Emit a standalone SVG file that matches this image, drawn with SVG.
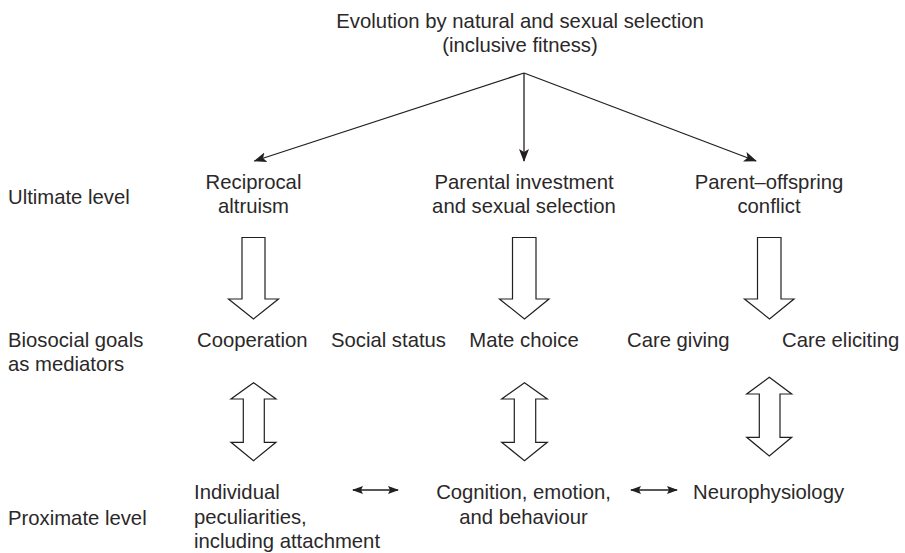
<svg xmlns="http://www.w3.org/2000/svg" width="905" height="553" viewBox="0 0 905 553">
  <style>
    text { font-family: "Liberation Sans", Arial, sans-serif; font-size: 20.3px; fill: #2b2829; }
    .mid { text-anchor: middle; }
    .line { stroke: #231f20; stroke-width: 1.3; fill: none; }
    .block { stroke: #231f20; stroke-width: 1.2; fill: #ffffff; stroke-linejoin: miter; }
  </style>
  <defs>
    <marker id="head" markerUnits="userSpaceOnUse" markerWidth="14" markerHeight="12" refX="12" refY="5" orient="auto-start-reverse" viewBox="0 0 14 10">
      <path d="M0,0 L13,5 L0,10 L3,5 Z" fill="#231f20"/>
    </marker>
    <marker id="small" markerUnits="userSpaceOnUse" markerWidth="11" markerHeight="9" refX="10" refY="4" orient="auto-start-reverse" viewBox="0 0 11 8">
      <path d="M0,0 L11,4 L0,8 L2,4 Z" fill="#231f20"/>
    </marker>
  </defs>

  <rect width="905" height="553" fill="#ffffff"/>

  <!-- level labels on the left -->
  <g id="label-ultimate">
    <text x="8" y="204">Ultimate level</text>
  </g>
  <g id="label-biosocial">
    <text x="8" y="347">Biosocial goals</text>
    <text x="8" y="371">as mediators</text>
  </g>
  <g id="label-proximate">
    <text x="8" y="525">Proximate level</text>
  </g>

  <!-- root -->
  <g id="evolution">
    <text class="mid" x="520" y="28">Evolution by natural and sexual selection</text>
    <text class="mid" x="520" y="52">(inclusive fitness)</text>
  </g>

  <!-- ultimate level -->
  <g id="reciprocal-altruism">
    <text class="mid" x="253.5" y="189">Reciprocal</text>
    <text class="mid" x="253.5" y="213">altruism</text>
  </g>
  <g id="parental-investment">
    <text class="mid" x="524" y="189">Parental investment</text>
    <text class="mid" x="524" y="213">and sexual selection</text>
  </g>
  <g id="parent-offspring">
    <text class="mid" x="769" y="189">Parent–offspring</text>
    <text class="mid" x="769" y="213">conflict</text>
  </g>

  <!-- biosocial goals -->
  <g id="cooperation"><text x="197" y="347">Cooperation</text></g>
  <g id="social-status"><text x="331" y="347">Social status</text></g>
  <g id="mate-choice"><text class="mid" x="524" y="347">Mate choice</text></g>
  <g id="care-giving"><text x="627" y="347">Care giving</text></g>
  <g id="care-eliciting"><text x="782" y="347">Care eliciting</text></g>

  <!-- proximate level -->
  <g id="individual-peculiarities">
    <text x="194" y="499">Individual</text>
    <text x="194" y="523.5">peculiarities,</text>
    <text x="194" y="548">including attachment</text>
  </g>
  <g id="cognition">
    <text class="mid" x="523.5" y="499">Cognition, emotion,</text>
    <text class="mid" x="523.5" y="523.5">and behaviour</text>
  </g>
  <g id="neurophysiology">
    <text x="693" y="499">Neurophysiology</text>
  </g>

  <!-- connectors -->
  <g id="connectors">
    <line class="line" x1="524" y1="73" x2="254.5" y2="161" marker-end="url(#head)"/>
    <line class="line" x1="524" y1="73" x2="524" y2="161" marker-end="url(#head)"/>
    <line class="line" x1="524" y1="73" x2="756" y2="161" marker-end="url(#head)"/>

    <path class="block" d="M242,237.5 H265 V299 H278.5 L253.5,319 L228.5,299 H242 Z"/>
    <path class="block" d="M512.5,237.5 H536 V299 H549 L524.5,319 L499.5,299 H512.5 Z"/>
    <path class="block" d="M757.5,237.5 H781 V299 H794 L769.5,319 L744.5,299 H757.5 Z"/>

    <path class="block" d="M253.5,382.7 L276,399 H264.3 V442.3 H276 L253.5,460.7 L231,442.3 H243.3 V399 H231 Z"/>
    <path class="block" d="M524.5,382.7 L547.3,399 H535.7 V442.3 H547.3 L524.5,460.7 L501.7,442.3 H514.3 V399 H501.7 Z"/>
    <path class="block" d="M769.3,377.3 L791.7,394 H780 V437.3 H791.7 L769.3,456 L746.7,437.3 H759.3 V394 H746.7 Z"/>

    <line class="line" x1="353" y1="490" x2="398" y2="490" marker-start="url(#small)" marker-end="url(#small)"/>
    <line class="line" x1="631" y1="490" x2="677" y2="490" marker-start="url(#small)" marker-end="url(#small)"/>
  </g>
</svg>
